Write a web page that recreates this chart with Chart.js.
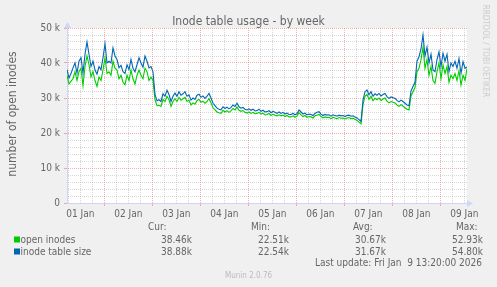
<!DOCTYPE html>
<html>
<head>
<meta charset="utf-8">
<title>Inode table usage - by week</title>
<script src="https://cdn.jsdelivr.net/npm/chart.js@4.4.1/dist/chart.umd.min.js"></script>
<style>
  html, body { margin: 0; padding: 0; background: #f0f0f0; }
  canvas { display: block; }
</style>
</head>
<body>
<canvas id="chartInodes" width="497" height="287"></canvas>
<script>
// Values, in thousands, one sample per hour
const startHour = 5.333;   // hours after 01 Jan 00:00 (01 Jan 05:20)
const stepHours = 1;

const openInodes = [
  36.5, 34.0, 34.8, 35.5, 37.5, 35.0, 37.5, 38.5, 33.5, 39.0,
  42.0, 39.5, 36.0, 37.5, 35.0, 33.3, 36.0, 35.0, 38.0, 41.5,
  37.0, 37.5, 36.5, 40.5, 38.5, 38.0, 35.5, 36.5, 34.5, 33.8,
  36.5, 35.0, 38.0, 35.5, 34.0, 36.5, 38.0, 36.5, 35.5, 38.5,
  37.5, 35.0, 36.0, 35.0, 29.5, 27.8, 27.9, 27.6, 29.6, 29.0,
  30.5, 29.5, 27.6, 29.0, 29.8, 29.0, 30.2, 29.3, 29.8, 30.2,
  29.0, 29.4, 28.0, 28.6, 28.2, 29.3, 29.6, 28.8, 29.1, 28.5,
  29.0, 29.8, 28.6, 27.2, 26.6, 26.0, 25.8, 25.6, 26.5, 26.0,
  26.4, 25.9, 26.3, 27.0, 26.6, 27.4, 26.5, 26.2, 26.4, 25.9,
  25.7, 26.0, 25.6, 25.9, 25.5, 25.6, 25.9, 25.4, 25.7, 25.2,
  25.3, 25.6, 25.0, 25.4, 25.1, 24.9, 25.2, 24.9, 25.1, 24.7,
  25.0, 24.6, 24.6, 24.9, 24.5, 24.8, 25.8, 25.2, 24.7, 25.0,
  24.5, 24.7, 24.6, 24.3, 24.9, 25.1, 25.3, 24.7, 24.3, 24.6,
  24.4, 24.5, 24.1, 24.5, 24.3, 24.1, 24.4, 24.2, 24.3, 24.0,
  24.3, 24.4, 24.1, 24.2, 23.9, 23.6, 23.1, 22.6, 28.0, 30.5,
  31.0, 29.6, 30.5, 29.2, 29.9, 29.5, 30.0, 29.3, 29.7, 30.0,
  29.1, 28.6, 29.0, 28.8, 28.6, 28.0, 27.6, 28.1, 27.7, 27.2,
  26.8, 26.6, 30.6, 31.8, 33.0, 37.5, 38.5, 41.0, 44.5, 38.5,
  41.0, 36.5, 39.0, 35.0, 34.2, 37.5, 40.0, 35.5, 39.5, 37.0,
  39.0, 34.5, 36.5, 35.5, 37.0, 35.0, 37.8, 33.7, 36.5, 35.0,
  38.5
];

const inodeTableSize = [
  38.1, 35.7, 37.0, 38.6, 40.0, 37.1, 40.5, 41.5, 37.1, 42.5,
  46.0, 42.5, 39.0, 40.5, 38.0, 36.8, 39.0, 38.1, 41.5, 45.5,
  40.0, 40.5, 40.0, 44.3, 42.0, 41.0, 38.6, 39.3, 37.5, 37.0,
  39.5, 38.1, 41.0, 38.5, 37.5, 39.5, 41.5, 40.0, 38.8, 42.0,
  40.5, 38.6, 39.0, 37.5, 31.0, 29.2, 29.5, 29.0, 31.2, 30.5,
  32.2, 31.0, 29.0, 30.5, 31.4, 30.5, 31.8, 30.8, 31.2, 31.8,
  30.5, 30.9, 29.4, 30.0, 29.6, 30.8, 31.1, 30.2, 30.6, 29.9,
  30.5, 31.3, 30.0, 28.5, 27.8, 27.1, 26.8, 26.6, 27.5, 27.0,
  27.4, 26.9, 27.3, 28.0, 27.6, 28.5, 27.5, 27.1, 27.3, 26.8,
  26.6, 26.9, 26.5, 26.8, 26.3, 26.4, 26.8, 26.2, 26.5, 26.0,
  26.1, 26.4, 25.8, 26.2, 25.9, 25.6, 26.0, 25.6, 25.9, 25.4,
  25.7, 25.3, 25.3, 25.6, 25.2, 25.5, 26.6, 26.0, 25.4, 25.7,
  25.2, 25.4, 25.3, 25.0, 25.6, 25.9, 26.1, 25.4, 25.0, 25.3,
  25.1, 25.2, 24.8, 25.2, 25.0, 24.8, 25.1, 24.9, 25.0, 24.7,
  25.0, 25.1, 24.8, 24.9, 24.6, 24.3, 23.8, 23.3, 29.4, 31.8,
  32.3, 30.9, 31.8, 30.5, 31.2, 30.8, 31.3, 30.6, 31.0, 31.3,
  30.4, 29.9, 30.3, 30.1, 29.9, 29.3, 28.9, 29.4, 29.0, 28.5,
  28.0, 27.8, 32.0, 33.3, 34.5, 40.5, 41.8, 44.0, 48.0, 42.0,
  44.5, 40.0, 42.5, 38.0, 37.5, 41.0, 43.2, 39.0, 42.8, 40.5,
  42.5, 37.5, 40.0, 39.0, 40.5, 38.5, 41.3, 37.0, 40.4, 38.5,
  38.9
];

const dayLabels = ['01 Jan', '02 Jan', '03 Jan', '04 Jan', '05 Jan', '06 Jan', '07 Jan', '08 Jan', '09 Jan'];
const yTickValues = [0, 10, 20, 30, 40, 50];

// legend table (Cur, Min, Avg, Max)
const statHeaders = ['Cur:', 'Min:', 'Avg:', 'Max:'];
const openStats = ['38.46k', '22.51k', '30.67k', '52.93k'];
const sizeStats = ['38.88k', '22.54k', '31.67k', '54.80k'];

const FONT = "'DejaVu Sans Condensed', 'DejaVu Sans', sans-serif";
const GREEN = '#00cc00';
const BLUE = '#0066b3';
const GRID = 'rgba(140,140,140,0.35)';
const MGRID = 'rgba(230,100,100,0.5)';
const AXIS = '#cfd6f8';

const toPoints = arr => arr.map((v, i) => ({ x: startHour + i * stepHours, y: v }));

// grid every 6h on x, every 2k on y
const xGrid = [];
for (let h = 6; h <= 204; h += 6) xGrid.push(h);
const yGrid = [];
for (let v = 0; v <= 50; v += 2) yGrid.push(v);

// white canvas + grey background
const background = {
    id: 'background',
    beforeDraw(chart) {
        const { ctx, chartArea: a } = chart;
        ctx.save();
        ctx.fillStyle = '#f0f0f0';
        ctx.fillRect(0, 0, chart.width, chart.height);
        ctx.fillStyle = '#ffffff';
        ctx.fillRect(a.left, a.top, a.right - a.left, a.bottom - a.top);
        ctx.restore();
    }
};

// title, axis title, arrows, legend table
const texts = {
    id: 'texts',
    afterDraw(chart) {
        const { ctx, chartArea: a } = chart;
        ctx.save();

        // axis arrows
        ctx.fillStyle = AXIS;
        ctx.beginPath();
        ctx.moveTo(a.left - 3, a.top);
        ctx.lineTo(a.left + 0.5, a.top - 6);
        ctx.lineTo(a.left + 4, a.top);
        ctx.fill();
        ctx.beginPath();
        ctx.moveTo(a.right, a.bottom - 3);
        ctx.lineTo(a.right + 6, a.bottom + 0.5);
        ctx.lineTo(a.right, a.bottom + 4);
        ctx.fill();

        ctx.fillStyle = '#666666';
        ctx.textBaseline = 'alphabetic';
        ctx.font = `12px ${FONT}`;
        ctx.textAlign = 'center';
        ctx.fillText('Inode table usage - by week', 248.5, 25);

        ctx.save();
        ctx.translate(16, 114);
        ctx.rotate(-Math.PI / 2);
        ctx.fillText('number of open inodes', 0, 0);
        ctx.restore();

        ctx.save();
        ctx.fillStyle = '#cccccc';
        ctx.font = `8px ${FONT}`;
        ctx.translate(483, 51);
        ctx.rotate(Math.PI / 2);
        ctx.fillText('RRDTOOL / TOBI OETIKER', 0, 0);
        ctx.restore();

        // legend
        ctx.font = `10px ${FONT}`;
        ctx.textAlign = 'left';
        const headerX = [148, 251, 353, 456];
        statHeaders.forEach((t, i) => ctx.fillText(t, headerX[i], 230));

        const valueX = [192, 289, 386, 483];
        const rows = [
            { label: 'open inodes', color: GREEN, stats: openStats, y: 242.5 },
            { label: 'inode table size', color: BLUE, stats: sizeStats, y: 254.5 }
        ];
        rows.forEach(r => {
            ctx.fillStyle = r.color;
            ctx.fillRect(14, r.y - 6, 6, 6);
            ctx.fillStyle = '#666666';
            ctx.textAlign = 'left';
            ctx.fillText(r.label, 20.5, r.y);
            ctx.textAlign = 'right';
            r.stats.forEach((s, i) => ctx.fillText(s, valueX[i], r.y));
        });

        ctx.textAlign = 'right';
        ctx.fillText('Last update: Fri Jan  9 13:20:00 2026', 482, 266);

        ctx.fillStyle = '#bbbbbb';
        ctx.font = `8px ${FONT}`;
        ctx.textAlign = 'center';
        ctx.fillText('Munin 2.0.76', 248.5, 278);

        ctx.restore();
    }
};

new Chart(document.getElementById('chartInodes'), {
    type: 'line',
    data: {
        datasets: [
            { label: 'inode table size', data: toPoints(inodeTableSize), borderColor: BLUE, order: 0 },
            { label: 'open inodes', data: toPoints(openInodes), borderColor: GREEN, order: 1 }
        ]
    },
    options: {
        responsive: false,
        animation: false,
        layout: { padding: { left: 0, right: 30, top: 28, bottom: 64 } },
        elements: {
            point: { radius: 0 },
            line: { borderWidth: 1.1, tension: 0, fill: false }
        },
        plugins: { legend: { display: false }, tooltip: { enabled: false } },
        scales: {
            x: {
                type: 'linear',
                min: startHour,
                max: startHour + (openInodes.length - 1) * stepHours,
                afterBuildTicks: s => { s.ticks = xGrid.map(v => ({ value: v })); },
                afterFit: s => { s.height = 20; },
                grid: {
                    color: c => (c.tick && c.tick.value % 24 === 0) ? MGRID : GRID,
                    tickColor: c => (c.tick && c.tick.value % 24 === 0) ? MGRID : 'rgba(0,0,0,0)',
                    tickLength: 3
                },
                border: { color: AXIS, dash: [1, 1] },
                ticks: {
                    autoSkip: false,
                    maxRotation: 0,
                    padding: 2,
                    color: '#666666',
                    font: { family: FONT, size: 10 },
                    callback: v => (v % 24 === 12) ? dayLabels[(v - 12) / 24] : ''
                }
            },
            y: {
                min: 0,
                max: 50,
                afterBuildTicks: s => { s.ticks = yGrid.map(v => ({ value: v })); },
                afterFit: s => { s.width = 67; },
                grid: {
                    color: c => {
                        const v = c.tick ? c.tick.value : -1;
                        if (v === 0) return 'rgba(0,0,0,0)';
                        return v % 10 === 0 ? MGRID : GRID;
                    },
                    tickColor: c => (c.tick && c.tick.value % 10 === 0) ? MGRID : 'rgba(0,0,0,0)',
                    tickLength: 3
                },
                border: { color: AXIS, dash: [1, 1] },
                ticks: {
                    autoSkip: false,
                    padding: 4,
                    color: '#666666',
                    font: { family: FONT, size: 10 },
                    callback: v => yTickValues.includes(v) ? (v === 0 ? '0' : v + ' k') : ''
                }
            }
        }
    },
    plugins: [background, texts]
});
</script>
</body>
</html>
